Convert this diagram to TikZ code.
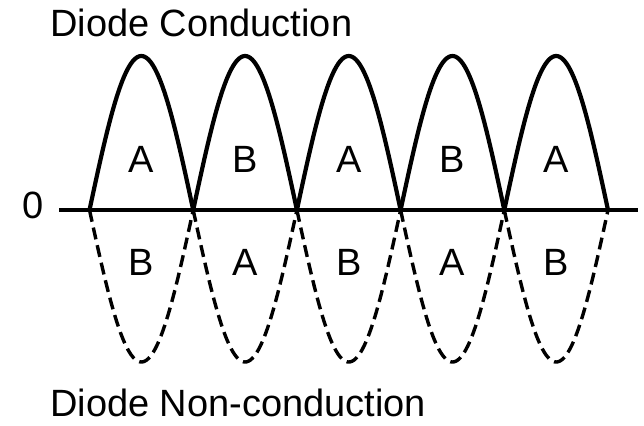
\documentclass[tikz,border=0pt]{standalone}
\usepackage{fontspec}
\setmainfont{Liberation Sans}
\begin{document}
\begin{tikzpicture}[x=1pt,y=-1pt,
  lbl/.style={inner sep=0pt,font=\fontsize{38}{40}\selectfont},
  cond/.style={line width=4.2pt,line join=round},
  noncond/.style={line width=3.4pt,dash pattern=on 12pt off 6pt},
  axisline/.style={line width=3.6pt}]
\useasboundingbox (0,0) rectangle (644,425);
% axis
\coordinate (ax0) at (59,210);
\coordinate (ax1) at (638,210);
\draw[axisline] (ax0) -- (ax1);
\node[lbl,anchor=base] (zero) at (33,218) {0};
% half waves
\foreach \i in {0,...,4}{
  \pgfmathsetmacro{\xs}{89.5+103.7*\i}
  \draw[cond,domain=0:180,samples=61,smooth] plot ({\xs+\x/180*103.7},{210-154*sin(\x)});
  \draw[noncond,domain=0:180,samples=61,smooth] plot ({\xs+\x/180*103.7},{210+152*sin(\x)});
}
% labels
\node[lbl,anchor=base] (t1) at (141.3,172) {A};
\node[lbl,anchor=base] (t2) at (245.0,172) {B};
\node[lbl,anchor=base] (t3) at (348.7,172) {A};
\node[lbl,anchor=base] (t4) at (452.4,172) {B};
\node[lbl,anchor=base] (t5) at (556.1,172) {A};
\node[lbl,anchor=base] (b1) at (141.3,275) {B};
\node[lbl,anchor=base] (b2) at (245.0,275) {A};
\node[lbl,anchor=base] (b3) at (348.7,275) {B};
\node[lbl,anchor=base] (b4) at (452.4,275) {A};
\node[lbl,anchor=base] (b5) at (556.1,275) {B};
\node[lbl,anchor=base west] (top) at (50,37) {Diode Conduction};
\node[lbl,anchor=base west,text depth=0pt] (bottom) at (50,416) {Diode Non-conduction};
\end{tikzpicture}
\end{document}
